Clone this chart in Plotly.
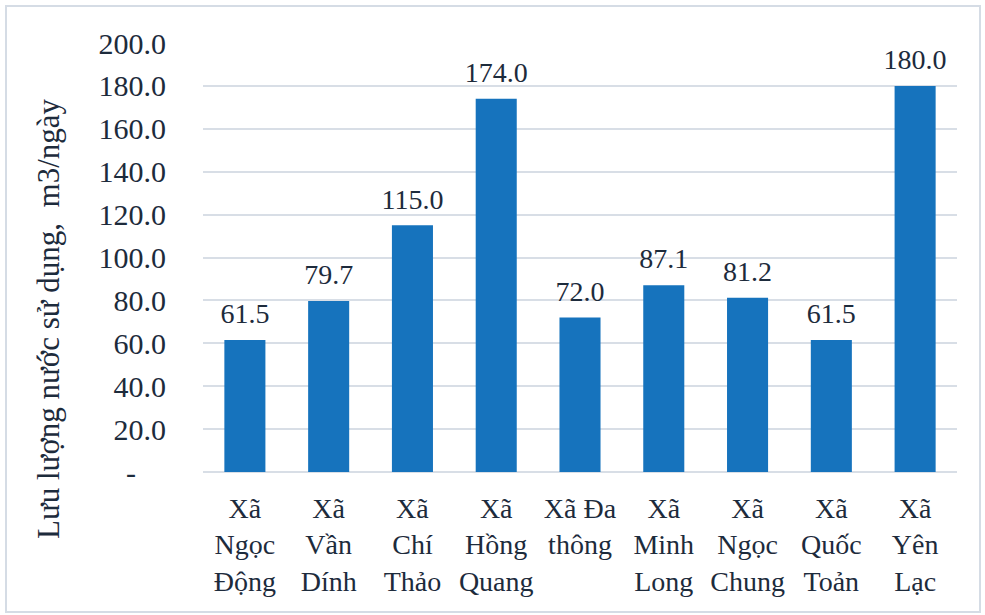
import plotly.graph_objects as go

categories = ["Xã<br>Ngọc<br>Động", "Xã<br>Vần<br>Dính", "Xã<br>Chí<br>Thảo", "Xã<br>Hồng<br>Quang",
              "Xã Đa<br>thông", "Xã<br>Minh<br>Long", "Xã<br>Ngọc<br>Chung", "Xã<br>Quốc<br>Toản",
              "Xã<br>Yên<br>Lạc"]
values = [61.5, 79.7, 115.0, 174.0, 72.0, 87.1, 81.2, 61.5, 180.0]
tick_vals = [0, 20, 40, 60, 80, 100, 120, 140, 160, 180, 200]
tick_text = ["-    ", "20.0", "40.0", "60.0", "80.0", "100.0", "120.0", "140.0", "160.0", "180.0", "200.0"]
y_title = "Lưu lượng nước sử dụng,  m3/ngày"

FONT = "Liberation Serif"
TXT = "#1d2b3c"
W, H = 985, 615
ML, MR, MT, MB = 203, 28, 43, 143

fig = go.Figure()
fig.add_trace(go.Bar(
    x=categories, y=values,
    marker=dict(color="#1673bd", line=dict(width=0)),
    hoverinfo="x+y",
))
fig.add_trace(go.Scatter(
    x=categories, y=values,
    mode="markers+text",
    marker=dict(size=14, opacity=0),
    text=[f"{v:.1f}" for v in values],
    textposition="top center",
    textfont=dict(family=FONT, size=28, color=TXT),
    cliponaxis=False,
    hoverinfo="skip",
))

fig.update_layout(
    width=W, height=H,
    margin=dict(l=ML, r=MR, t=MT, b=MB),
    paper_bgcolor="white", plot_bgcolor="white",
    bargap=0.51,
    showlegend=False,
    font=dict(family=FONT, size=28, color=TXT),
)
fig.update_yaxes(
    range=[0, 200], tickvals=tick_vals, ticktext=tick_text,
    showgrid=True, gridcolor="#d8dee6", gridwidth=2,
    zeroline=True, zerolinecolor="#d8dee6", zerolinewidth=2,
    ticks="", ticklabelstandoff=36,
    tickfont=dict(family=FONT, size=30, color=TXT),
)
fig.update_xaxes(
    range=[-0.5, len(categories) - 0.5],
    showline=False, ticks="",
    tickfont=dict(family=FONT, size=28, color=TXT),
    tickangle=0, ticklabelstandoff=17,
)

pw = W - ML - MR
ph = H - MT - MB
def px_x(p):
    return (p - ML) / pw
def px_y(p):
    return (H - MB - p) / ph

fig.add_annotation(
    text=y_title, textangle=-90, showarrow=False,
    xref="paper", yref="paper", x=px_x(48), y=px_y(319),
    xanchor="center", yanchor="middle",
    font=dict(family=FONT, size=31, color=TXT),
)
fig.add_shape(
    type="rect", xref="paper", yref="paper",
    x0=px_x(6), x1=px_x(980), y0=px_y(612), y1=px_y(6),
    line=dict(color="#d5dce5", width=2), layer="below",
)

fig.write_html("out.html")
